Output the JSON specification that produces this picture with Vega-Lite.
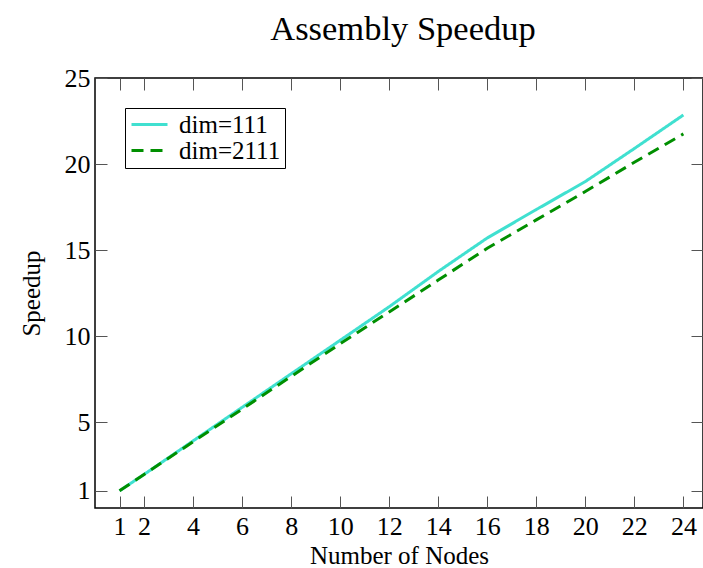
{
  "$schema": "https://vega.github.io/schema/vega-lite/v6.json",
  "width": 608,
  "height": 430,
  "autosize": "none",
  "padding": {"left": 95, "top": 78, "right": 0, "bottom": 60},
  "background": "white",
  "title": {"text": "Assembly Speedup", "font": "Liberation Serif", "fontSize": 34.5, "fontWeight": "normal", "color": "black", "anchor": "middle", "baseline": "bottom", "offset": -16, "dx": 4},
  "config": {
    "view": {"stroke": "black", "strokeWidth": 1.5},
    "font": "Liberation Serif"
  },
  "data": {
    "values": [
      {"nodes": 1, "speedup": 1, "series": "dim=111"},
      {"nodes": 2, "speedup": 1.95, "series": "dim=111"},
      {"nodes": 4, "speedup": 3.9, "series": "dim=111"},
      {"nodes": 6, "speedup": 5.85, "series": "dim=111"},
      {"nodes": 8, "speedup": 7.8, "series": "dim=111"},
      {"nodes": 10, "speedup": 9.75, "series": "dim=111"},
      {"nodes": 12, "speedup": 11.7, "series": "dim=111"},
      {"nodes": 14, "speedup": 13.75, "series": "dim=111"},
      {"nodes": 16, "speedup": 15.7, "series": "dim=111"},
      {"nodes": 18, "speedup": 17.35, "series": "dim=111"},
      {"nodes": 20, "speedup": 18.98, "series": "dim=111"},
      {"nodes": 22, "speedup": 20.9, "series": "dim=111"},
      {"nodes": 24, "speedup": 22.85, "series": "dim=111"},
      {"nodes": 1, "speedup": 1, "series": "dim=2111"},
      {"nodes": 2, "speedup": 1.95, "series": "dim=2111"},
      {"nodes": 4, "speedup": 3.85, "series": "dim=2111"},
      {"nodes": 6, "speedup": 5.75, "series": "dim=2111"},
      {"nodes": 8, "speedup": 7.65, "series": "dim=2111"},
      {"nodes": 10, "speedup": 9.55, "series": "dim=2111"},
      {"nodes": 12, "speedup": 11.4, "series": "dim=2111"},
      {"nodes": 14, "speedup": 13.25, "series": "dim=2111"},
      {"nodes": 16, "speedup": 15.1, "series": "dim=2111"},
      {"nodes": 18, "speedup": 16.75, "series": "dim=2111"},
      {"nodes": 20, "speedup": 18.4, "series": "dim=2111"},
      {"nodes": 22, "speedup": 20.1, "series": "dim=2111"},
      {"nodes": 24, "speedup": 21.75, "series": "dim=2111"}
    ]
  },
  "layer": [
    {
      "mark": {"type": "line", "strokeWidth": 3, "clip": true},
      "encoding": {
        "x": {
          "field": "nodes", "type": "quantitative",
          "scale": {"domain": [0, 24.8], "nice": false, "zero": false},
          "axis": {
            "orient": "bottom", "offset": -12,
            "title": "Number of Nodes", "values": [1, 2, 4, 6, 8, 10, 12, 14, 16, 18, 20, 22, 24],
            "grid": false, "domain": false,
            "tickSize": 12, "tickColor": "#555555", "tickWidth": 1,
            "labelPadding": 5, "labelFontSize": 26, "labelFont": "Liberation Serif", "labelColor": "black",
            "labelFlush": false,
            "titleFontSize": 25, "titleFont": "Liberation Serif", "titleFontWeight": "normal", "titleColor": "black", "titlePadding": 4
          }
        },
        "y": {
          "field": "speedup", "type": "quantitative",
          "scale": {"domain": [0, 25], "nice": false},
          "axis": {
            "orient": "left", "offset": -12,
            "title": "Speedup", "values": [1, 5, 10, 15, 20, 25],
            "grid": false, "domain": false,
            "tickSize": 12, "tickColor": "#555555", "tickWidth": 1,
            "labelPadding": 5, "labelFontSize": 26, "labelFont": "Liberation Serif", "labelColor": "black",
            "labelFlush": false,
            "titleFontSize": 25, "titleFont": "Liberation Serif", "titleFontWeight": "normal", "titleColor": "black", "titlePadding": 20
          }
        },
        "color": {
          "field": "series", "type": "nominal",
          "scale": {"domain": ["dim=111", "dim=2111"], "range": ["#40E0D0", "#008f00"]},
          "legend": {
            "title": null, "orient": "none", "legendX": 30, "legendY": 30,
            "strokeColor": "black", "fillColor": "white", "padding": 4,
            "symbolType": "M-1.8,0H1.8", "symbolStrokeWidth": 3, "symbolSize": 400, "symbolOffset": 8,
            "labelFontSize": 25, "labelFont": "Liberation Serif", "labelColor": "black",
            "rowPadding": -2, "labelOffset": 17
          }
        },
        "strokeDash": {
          "field": "series", "type": "nominal",
          "scale": {"domain": ["dim=111", "dim=2111"], "range": [[1, 0], [12, 7]]},
          "legend": null
        }
      }
    },
    {
      "mark": {"type": "line", "strokeWidth": 0},
      "encoding": {
        "x": {
          "field": "nodes", "type": "quantitative",
          "axis": {
            "orient": "top", "offset": -12, "title": null, "labels": false,
            "values": [1, 2, 4, 6, 8, 10, 12, 14, 16, 18, 20, 22, 24],
            "grid": false, "domain": false,
            "tickSize": 12, "tickColor": "#555555", "tickWidth": 1
          }
        },
        "y": {
          "field": "speedup", "type": "quantitative",
          "axis": {
            "orient": "right", "offset": -12, "title": null, "labels": false,
            "values": [1, 5, 10, 15, 20, 25],
            "grid": false, "domain": false,
            "tickSize": 12, "tickColor": "#555555", "tickWidth": 1
          }
        }
      }
    }
  ],
  "resolve": {"axis": {"x": "independent", "y": "independent"}}
}
